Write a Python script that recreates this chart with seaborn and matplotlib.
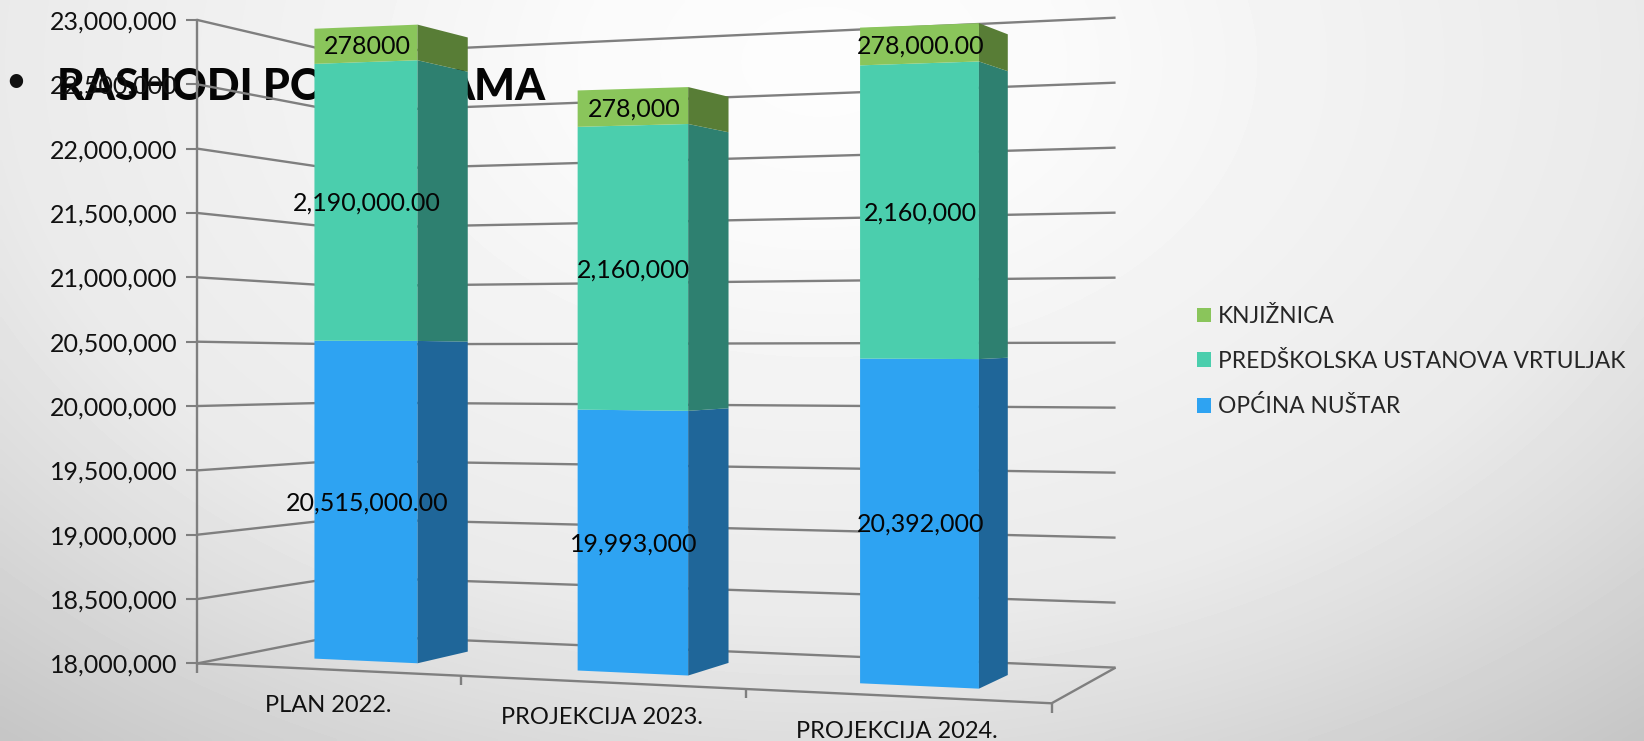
from __future__ import annotations

import matplotlib
matplotlib.use("Agg")
import matplotlib.pyplot as plt
import numpy as np
import seaborn as sns
from matplotlib.patches import Patch, Polygon
from matplotlib.ticker import FuncFormatter
from matplotlib.transforms import ScaledTranslation, Transform

categories = ["PLAN 2022.", "PROJEKCIJA 2023.", "PROJEKCIJA 2024."]
opcina = [20515000, 19993000, 20392000]
vrtuljak = [2190000, 2160000, 2160000]
knjiznica = [278000, 278000, 278000]
opcina_labels = ["20,515,000.00", "19,993,000", "20,392,000"]
vrtuljak_labels = ["2,190,000.00", "2,160,000", "2,160,000"]
knjiznica_labels = ["278000", "278,000", "278,000.00"]
y_ticks = [18000000, 18500000, 19000000, 19500000, 20000000, 20500000, 21000000, 21500000, 22000000, 22500000, 23000000]

FONT = "Lato"
BASE = 18000000
W_PX, H_PX = 1644, 741
# measured on the shrunk 1568x707 view
SW, SH = 1568.0, 707.0
FL, FR, BR, BL = (188, 633), (1003, 671), (1064, 637), (325, 606)
PX_PER_UNIT = 122.8 / 1e6
W_FRONT, W_BACK = 0.27, 0.66
BAR_WIDTH = 0.4


def _floor_coeffs():
    sx = FL[0] - FR[0] + BR[0] - BL[0]
    sy = FL[1] - FR[1] + BR[1] - BL[1]
    dx1, dx2 = FR[0] - BR[0], BL[0] - BR[0]
    dy1, dy2 = FR[1] - BR[1], BL[1] - BR[1]
    det = dx1 * dy2 - dx2 * dy1
    g = (sx * dy2 - dx2 * sy) / det
    h = (dx1 * sy - sx * dy1) / det
    return g, h


G, H = _floor_coeffs()


def project(u, w, v):
    # chart box (u along floor, w into depth, v value) to figure fraction
    u, w, v = np.asarray(u, float), np.asarray(w, float), np.asarray(v, float)
    den = 1 + G * u + H * w
    x = (FL[0] + (FR[0] - FL[0] + G * FR[0]) * u + (BL[0] - FL[0] + H * BL[0]) * w) / den
    y = (FL[1] + (FR[1] - FL[1] + G * FR[1]) * u + (BL[1] - FL[1] + H * BL[1]) * w) / den
    # height shrink fitted on the bars and wall corners
    shrink = 1 - 0.101 * u + 0.1064 * w - 0.0153 * u * w
    y = y - (v - BASE) * PX_PER_UNIT / shrink
    return x / SW, 1 - y / SH


def cat_u(x):
    return (np.asarray(x, float) + 0.5) / len(categories)


class FrontFace(Transform):
    input_dims = 2
    output_dims = 2
    is_separable = False

    def __init__(self, w_plane):
        super().__init__()
        self.w_plane = w_plane

    def transform_non_affine(self, values):
        values = np.asarray(values, float)
        fx, fy = project(cat_u(values[:, 0]), self.w_plane, values[:, 1])
        return np.column_stack([fx, fy])


sns.set_style("white")
plt.rcParams["font.family"] = [FONT, "DejaVu Sans"]

fig = plt.figure(figsize=(W_PX / 100, H_PX / 100), dpi=100)

# slide background
bg = fig.add_axes([0, 0, 1, 1], zorder=0)
yy, xx = np.mgrid[0:H_PX:4, 0:W_PX:4]
dist = np.sqrt(((xx - 820) / 820.0) ** 2 + ((yy - 60) / 560.0) ** 2)
shade = np.interp(dist, [0, 0.3, 0.57, 1.0, 1.22, 1.56], [253, 250, 243, 234, 221, 198]) / 255
bg.imshow(shade, cmap="gray", vmin=0, vmax=1, aspect="auto", extent=[0, 1, 0, 1], interpolation="bilinear")
bg.axis("off")

# slide title sits under the chart
bg.text(16 / W_PX, 1 - 81 / H_PX, "•", transform=fig.transFigure, fontsize=26, color="#111111", ha="center", va="center")
bg.text(57 / W_PX, 1 - 100 / H_PX, "RASHODI PO", transform=fig.transFigure, fontsize=31, fontweight="black", color="#050505", ha="left", va="baseline")
bg.text(546 / W_PX, 1 - 100 / H_PX, "AMA", transform=fig.transFigure, fontsize=31, fontweight="black", color="#050505", ha="right", va="baseline")

ax = fig.add_axes([FL[0] / SW, 1 - FL[1] / SH, (BR[0] - FL[0]) / SW, (FL[1] - 19) / SH], zorder=1)
ax.patch.set_alpha(0)

series = [
    (opcina, "#2EA3F2", "#1F6699", opcina_labels, "OPĆINA NUŠTAR"),
    (vrtuljak, "#4BCEAD", "#2E8070", vrtuljak_labels, "PREDŠKOLSKA USTANOVA VRTULJAK"),
    (knjiznica, "#8AC55B", "#587D36", knjiznica_labels, "KNJIŽNICA"),
]

front = FrontFace(W_FRONT) + fig.transFigure
label_shift = front + ScaledTranslation(1 / 72, -1.5 / 72, fig.dpi_scale_trans)
x_pos = np.arange(len(categories))

# walls and grid
line_kw = dict(color="#7F7F7F", lw=1.7, transform=fig.transFigure, clip_on=False, zorder=1, solid_capstyle="butt")
for tick in y_ticks:
    px, py = project([0, 0, 1], [0, 1, 1], [tick, tick, tick])
    ax.plot(px, py, **line_kw)
px, py = project([0, 1, 1], [0, 0, 1], [BASE, BASE, BASE])
ax.plot(px, py, **line_kw)
for i in range(len(categories) + 1):
    px, py = project(i / len(categories), 0, BASE)
    ax.plot([px, px], [py, py - 9 / SH], **line_kw)

# stacked bars, the first series starts at the axis floor
bottoms = np.full(len(categories), BASE, dtype=float)
for k, (values, face, side, labels, name) in enumerate(series):
    heights = np.asarray(values, float) - (BASE if k == 0 else 0)
    n_before = len(ax.patches)
    sns.barplot(x=categories, y=heights, bottom=bottoms, color=face, saturation=1, width=BAR_WIDTH,
                errorbar=None, ax=ax, zorder=3, linewidth=0)
    for bar in ax.patches[n_before:]:
        bar.set_transform(front)
        bar.set_clip_on(False)
    for i in x_pos:
        u = cat_u(i + BAR_WIDTH / 2)
        low, high = bottoms[i], bottoms[i] + heights[i]
        a = project(u, W_FRONT, low)
        b = project(u, W_BACK, low)
        c = project(u, W_BACK, high)
        d = project(u, W_FRONT, high)
        ax.add_patch(Polygon([a, b, c, d], closed=True, facecolor=side, edgecolor="none",
                             transform=fig.transFigure, clip_on=False, zorder=3))
        ax.text(i, low + heights[i] / 2, labels[i], transform=label_shift, ha="center", va="center",
                fontsize=18, color="#050505", zorder=5, clip_on=False)
    bottoms = bottoms + heights

ax.set_ylim(BASE, 23000000)
ax.set_xlim(-0.5, 2.5)
ax.set_xticks([])
ax.set_xlabel("")
ax.set_yticks(y_ticks)
ax.yaxis.set_major_formatter(FuncFormatter(lambda val, _: f"{val:,.0f}"))
ax.tick_params(axis="y", left=True, length=8, width=1.5, color="#7F7F7F", labelsize=18, labelcolor="#111111", pad=6)
for name, spine in ax.spines.items():
    spine.set_visible(name == "left")
ax.spines["left"].set_color("#7F7F7F")
ax.spines["left"].set_linewidth(1.7)

# category labels under the front floor edge
for i, label in enumerate(categories):
    px, py = project(cat_u(i), 0, BASE)
    ax.text(px + 1 / SW, py - 34 / SH, label, transform=fig.transFigure, ha="center", va="center",
            fontsize=17, color="#111111", clip_on=False)

handles = [Patch(facecolor=face, edgecolor="none", label=name) for _, face, _, _, name in series[::-1]]
ax.legend(handles=handles, loc="center left", bbox_to_anchor=(1142 / SW, 1 - 345 / SH), bbox_transform=fig.transFigure,
          frameon=False, fontsize=16.4, handlelength=0.62, handleheight=0.62, handletextpad=0.3, labelspacing=1.04, borderpad=0, borderaxespad=0)

fig.savefig("out.png", dpi=100)
